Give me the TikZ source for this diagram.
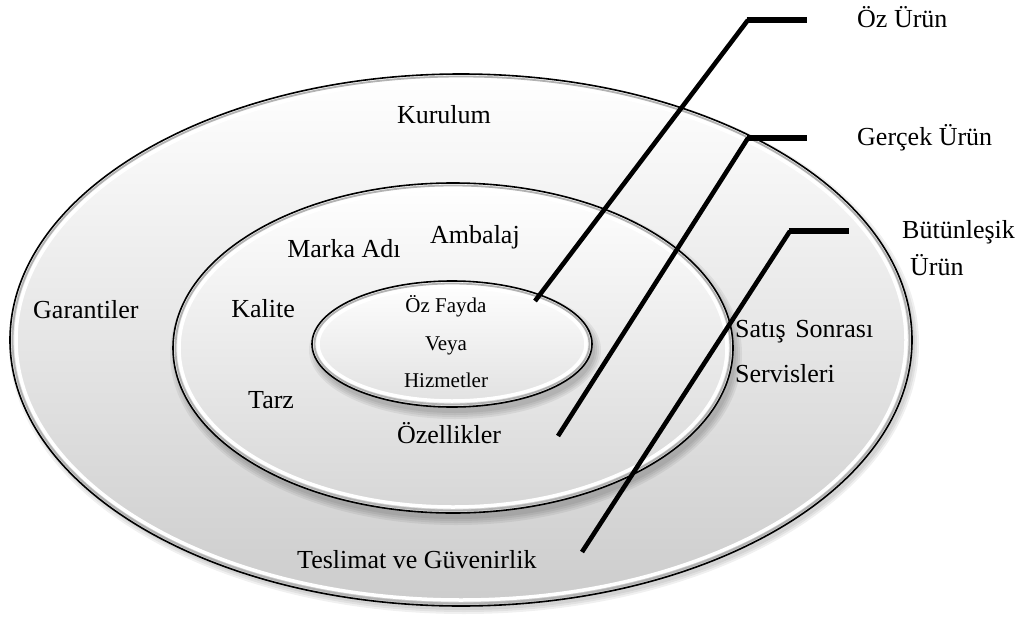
\documentclass[tikz,border=0pt]{standalone}
\usepackage{fontspec}
\setmainfont{Liberation Serif}
\begin{document}
\begin{tikzpicture}[x=1pt,y=-1pt,
  big/.style={font=\fontsize{26}{30}\selectfont, inner sep=0pt},
  small/.style={font=\fontsize{21}{25}\selectfont, inner sep=0pt},
  outline/.style={draw=black, line width=1.6pt},
  rimwhite/.style={draw=white, line width=3.5pt},
  rimgray/.style={draw=black!30, line width=1.8pt},
  shade/.style={fill=black, opacity=0.06},
  leg/.style={line width=4.6pt, line cap=butt},
  bar/.style={line width=6.5pt, line cap=butt}]
\useasboundingbox (0,0) rectangle (1022,618);
\fill[white] (0,0) rectangle (1022,618);
% centres
\coordinate (co) at (461,340);
\coordinate (cm) at (453,348);
\coordinate (ci) at (452,344);
% outer ellipse
\foreach \r in {0,2,4}{\fill[shade] ([shift={(3,4)}]co) ellipse [x radius=451+\r, y radius=266+\r];}
\path[top color=white, bottom color=black!20] (co) ellipse [x radius=451, y radius=266];
\draw[rimgray] (co) ellipse [x radius=448.5, y radius=263.5];
\draw[rimwhite] (co) ellipse [x radius=445, y radius=260];
\draw[outline] (co) ellipse [x radius=451, y radius=266];
% middle ellipse
\foreach \r in {0,2,4,6}{\fill[shade] ([shift={(3,6)}]cm) ellipse [x radius=280+\r, y radius=165+\r];}
\path[top color=white, bottom color=black!16] (cm) ellipse [x radius=280, y radius=165];
\draw[rimgray] (cm) ellipse [x radius=277.5, y radius=162.5];
\draw[rimwhite] (cm) ellipse [x radius=274, y radius=159];
\draw[outline] (cm) ellipse [x radius=280, y radius=165];
% inner ellipse
\foreach \r in {0,2,4,6}{\fill[shade] ([shift={(3,6)}]ci) ellipse [x radius=140+\r, y radius=63+\r];}
\path[top color=white, bottom color=black!12] (ci) ellipse [x radius=140, y radius=63];
\draw[rimgray] (ci) ellipse [x radius=137.5, y radius=60.5];
\draw[rimwhite] (ci) ellipse [x radius=134, y radius=57];
\draw[outline] (ci) ellipse [x radius=140, y radius=63];
% texts
\node[big, anchor=base] (kurulum) at (444,123) {Kurulum};
\node[big, anchor=base] (marka) at (344,257) {Marka Adı};
\node[big, anchor=base west] (ambalaj) at (430,243) {Ambalaj};
\node[big, anchor=base west] (garantiler) at (33,318) {Garantiler};
\node[big, anchor=base east] (kalite) at (295,317) {Kalite};
\node[small, anchor=base] (oz) at (446,312) {Öz Fayda};
\node[small, anchor=base] (veya) at (446,350) {Veya};
\node[small, anchor=base] (hizmet) at (446,387) {Hizmetler};
\node[big, anchor=base west] (tarz) at (248,408) {Tarz};
\node[big, anchor=base] (ozellik) at (449,443) {Özellikler};
\node[big, anchor=base west] (satis) at (735,337) {Satış\hspace{3pt} Sonrası};
\node[big, anchor=base west] (servis) at (735,382) {Servisleri};
\node[big, anchor=base west] (teslimat) at (297,568) {Teslimat ve Güvenirlik};
\node[big, anchor=base west] (ozurun) at (857,28) {Öz Ürün};
\node[big, anchor=base west] (gercek) at (857,145) {Gerçek Ürün};
\node[big, anchor=base west] (butun) at (902,238) {Bütünleşik};
\node[big, anchor=base west] (urun) at (910,275) {Ürün};
% leader lines
\coordinate (a1) at (535,301);
\coordinate (b1) at (748,20);
\coordinate (c1) at (807,20);
\coordinate (a2) at (558,436);
\coordinate (b2) at (748,138);
\coordinate (c2) at (807,138);
\coordinate (a3) at (582,552);
\coordinate (b3) at (790,231);
\coordinate (c3) at (849,231);
\draw[leg] (a1) -- (b1);
\draw[bar] ([xshift=-1.5pt]b1) -- (c1);
\draw[leg] (a2) -- (b2);
\draw[bar] ([xshift=-1.5pt]b2) -- (c2);
\draw[leg] (a3) -- (b3);
\draw[bar] ([xshift=-1.5pt]b3) -- (c3);
\end{tikzpicture}
\end{document}
